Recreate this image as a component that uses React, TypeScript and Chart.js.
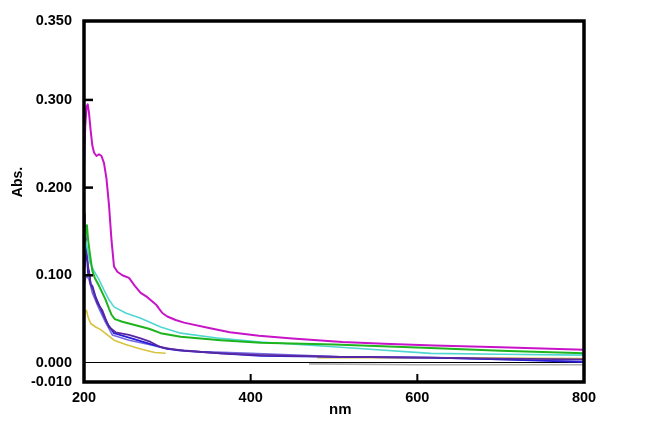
import React, { useEffect, useRef } from "react";
import { Chart, registerables } from "chart.js";

Chart.register(...registerables);

// ---- data (wavelength nm / absorbance) ----
const magentaNm = [200, 201.5, 203, 204.5, 206, 208, 210, 212, 215, 218, 221, 224, 227, 230, 233, 236, 240, 246, 254, 261, 268, 276, 282, 287, 290, 294, 300, 310, 320, 350, 375, 410, 450, 510, 560, 620, 700, 800];
const magentaAbs = [0.225, 0.27, 0.292, 0.295, 0.285, 0.265, 0.248, 0.24, 0.236, 0.238, 0.236, 0.228, 0.21, 0.18, 0.14, 0.11, 0.104, 0.1, 0.097, 0.088, 0.08, 0.075, 0.07, 0.066, 0.062, 0.057, 0.053, 0.049, 0.046, 0.04, 0.035, 0.031, 0.028, 0.024, 0.022, 0.02, 0.018, 0.015];

const greenNm = [200, 202, 203.5, 205, 207, 210, 213, 218, 222, 226, 230, 233, 237, 246, 262, 278, 292, 316, 364, 412, 500, 616, 700, 800];
const greenAbs = [0.13, 0.15, 0.157, 0.14, 0.125, 0.105, 0.097, 0.088, 0.08, 0.072, 0.062, 0.055, 0.05, 0.047, 0.043, 0.039, 0.034, 0.03, 0.026, 0.023, 0.021, 0.017, 0.014, 0.011];

const cyanNm = [200, 202, 204, 207, 212, 218, 224, 230, 236, 250, 268, 292, 316, 364, 412, 508, 616, 700, 800];
const cyanAbs = [0.12, 0.14, 0.13, 0.115, 0.105, 0.095, 0.083, 0.072, 0.064, 0.057, 0.051, 0.041, 0.034, 0.028, 0.024, 0.018, 0.011, 0.01, 0.009];

const purpleNm = [200, 201, 203, 205, 208, 211, 216, 222, 226, 230, 238, 254, 268, 280, 292, 304, 320, 364, 412, 508, 616, 700, 800];
const purpleAbs = [0.17, 0.16, 0.13, 0.11, 0.09, 0.083, 0.068, 0.06, 0.05, 0.041, 0.035, 0.032, 0.028, 0.024, 0.018, 0.016, 0.014, 0.011, 0.009, 0.007, 0.006, 0.005, 0.004];

const blueNm = [200, 201, 202, 203, 204, 205, 206, 208, 210, 214, 220, 228, 236, 254, 278, 300, 316, 364, 412, 508, 616, 700, 800];
const blueAbs = [0.11, 0.13, 0.14, 0.12, 0.115, 0.1, 0.105, 0.09, 0.088, 0.075, 0.062, 0.045, 0.034, 0.029, 0.022, 0.016, 0.014, 0.011, 0.008, 0.007, 0.006, 0.004, 0.001];

const lavenderNm = [200, 203, 206, 210, 218, 226, 234, 254, 278, 300, 340, 400, 508, 616, 700, 800];
const lavenderAbs = [0.09, 0.1, 0.095, 0.08, 0.062, 0.046, 0.032, 0.026, 0.021, 0.016, 0.013, 0.011, 0.007, 0.006, 0.004, 0.002];

const yellowNm = [200, 201.5, 203, 205, 208, 214, 220, 228, 236, 250, 268, 285, 298, 400, 480, 640, 800];
const yellowAbs = [0.05, 0.058, 0.06, 0.052, 0.045, 0.041, 0.038, 0.032, 0.026, 0.021, 0.016, 0.012, 0.011, null, 0.006, 0.006, 0.005];

const grayNm = [470, 600, 800];
const grayAbs = [-0.001, -0.002, -0.002];

const xTickValues = [200, 400, 600, 800];
const yInnerTicks = [0, 0.1, 0.2, 0.3];
const yTopLabel = "0.350";
const yBottomLabel = "-0.010";

const Y_MIN = -0.0217;
const Y_MAX = 0.39;

const toPts = (xs: number[], ys: (number | null)[]) => xs.map((x, i) => ({ x, y: ys[i] }));

const FONT = "'Liberation Sans', Arial, sans-serif";

const framePlugin = {
  id: "frame",
  afterDatasetsDraw(chart: any) {
    const { ctx, chartArea } = chart;
    const xs = chart.scales.x;
    const ys = chart.scales.y;
    ctx.save();
    ctx.strokeStyle = "#000";
    // inner tick marks
    ctx.lineWidth = 2.5;
    [0.1, 0.2, 0.3].forEach((v) => {
      const py = ys.getPixelForValue(v);
      ctx.beginPath();
      ctx.moveTo(chartArea.left, py);
      ctx.lineTo(chartArea.left + 9, py);
      ctx.stroke();
    });
    ctx.lineWidth = 2;
    [400, 600].forEach((v) => {
      const px = xs.getPixelForValue(v);
      ctx.beginPath();
      ctx.moveTo(px, chartArea.bottom);
      ctx.lineTo(px, chartArea.bottom - 8);
      ctx.stroke();
    });
    // box
    ctx.lineWidth = 3.5;
    ctx.strokeRect(chartArea.left, chartArea.top, chartArea.right - chartArea.left, chartArea.bottom - chartArea.top);
    ctx.restore();
  },
};

export default function App() {
  const ref = useRef<HTMLCanvasElement | null>(null);
  useEffect(() => {
    if (!ref.current) return;
    const mk = (label: string, xs: number[], ys: (number | null)[], color: string, w: number) => ({
      label,
      data: toPts(xs, ys),
      borderColor: color,
      backgroundColor: color,
      borderWidth: w,
      pointRadius: 0,
      tension: 0,
      fill: false,
      spanGaps: false,
      borderJoinStyle: "round" as const,
    });
    const chart = new Chart(ref.current, {
      type: "line",
      data: {
        datasets: [
          mk("S1", magentaNm, magentaAbs, "rgb(200,20,200)", 2),
          mk("S2", greenNm, greenAbs, "rgb(30,180,30)", 2),
          mk("S3", cyanNm, cyanAbs, "rgb(80,215,210)", 1.6),
          mk("S4", purpleNm, purpleAbs, "rgb(90,40,160)", 1.8),
          mk("S5", blueNm, blueAbs, "rgb(40,30,215)", 1.8),
          mk("S6", lavenderNm, lavenderAbs, "rgb(115,105,225)", 1.6),
          mk("S7", yellowNm, yellowAbs, "rgb(215,195,60)", 1.6),
          mk("S8", grayNm, grayAbs, "rgb(175,175,175)", 1.6),
        ],
      },
      options: {
        responsive: false,
        animation: false,
        layout: { padding: { left: 0, top: 21, right: 61, bottom: 0 } },
        plugins: { legend: { display: false }, tooltip: { enabled: false } },
        scales: {
          x: {
            type: "linear",
            min: 200,
            max: 800,
            afterBuildTicks: (s: any) => {
              s.ticks = xTickValues.map((v) => ({ value: v }));
            },
            afterFit: (s: any) => {
              s.height = 49;
            },
            ticks: {
              autoSkip: false,
              padding: 7,
              color: "#000",
              font: { family: FONT, size: 14.5, weight: "bold" },
              callback: (v: any) => String(v),
            },
            grid: { display: false, drawTicks: false },
            border: { display: false },
            title: {
              display: true,
              text: "   nm",
              color: "#000",
              font: { family: FONT, size: 15, weight: "bold" },
              padding: { top: 0, bottom: 12 },
            },
          },
          y: {
            type: "linear",
            min: Y_MIN,
            max: Y_MAX,
            afterBuildTicks: (s: any) => {
              s.ticks = [Y_MIN, ...yInnerTicks, Y_MAX].map((v) => ({ value: v }));
            },
            afterFit: (s: any) => {
              s.width = 84;
            },
            ticks: {
              autoSkip: false,
              padding: 12,
              color: "#000",
              font: { family: FONT, size: 14.5, weight: "bold" },
              callback: (v: any) => {
                if (v === Y_MIN) return yBottomLabel;
                if (v === Y_MAX) return yTopLabel;
                return Number(v).toFixed(3);
              },
            },
            grid: {
              drawTicks: false,
              lineWidth: 1,
              color: (c: any) => (c.tick && c.tick.value === 0 ? "#000" : "rgba(0,0,0,0)"),
            },
            border: { display: false },
            title: {
              display: true,
              text: "          Abs.",
              color: "#000",
              font: { family: FONT, size: 14, weight: "bold" },
              padding: { top: 10, bottom: 0 },
            },
          },
        },
      },
      plugins: [framePlugin],
    });
    return () => chart.destroy();
  }, []);
  return (
    <div style={{ position: "absolute", left: 0, top: 0, width: 645, height: 431, background: "#fff" }}>
      <canvas ref={ref} width={645} height={431} style={{ display: "block" }} />
    </div>
  );
}
